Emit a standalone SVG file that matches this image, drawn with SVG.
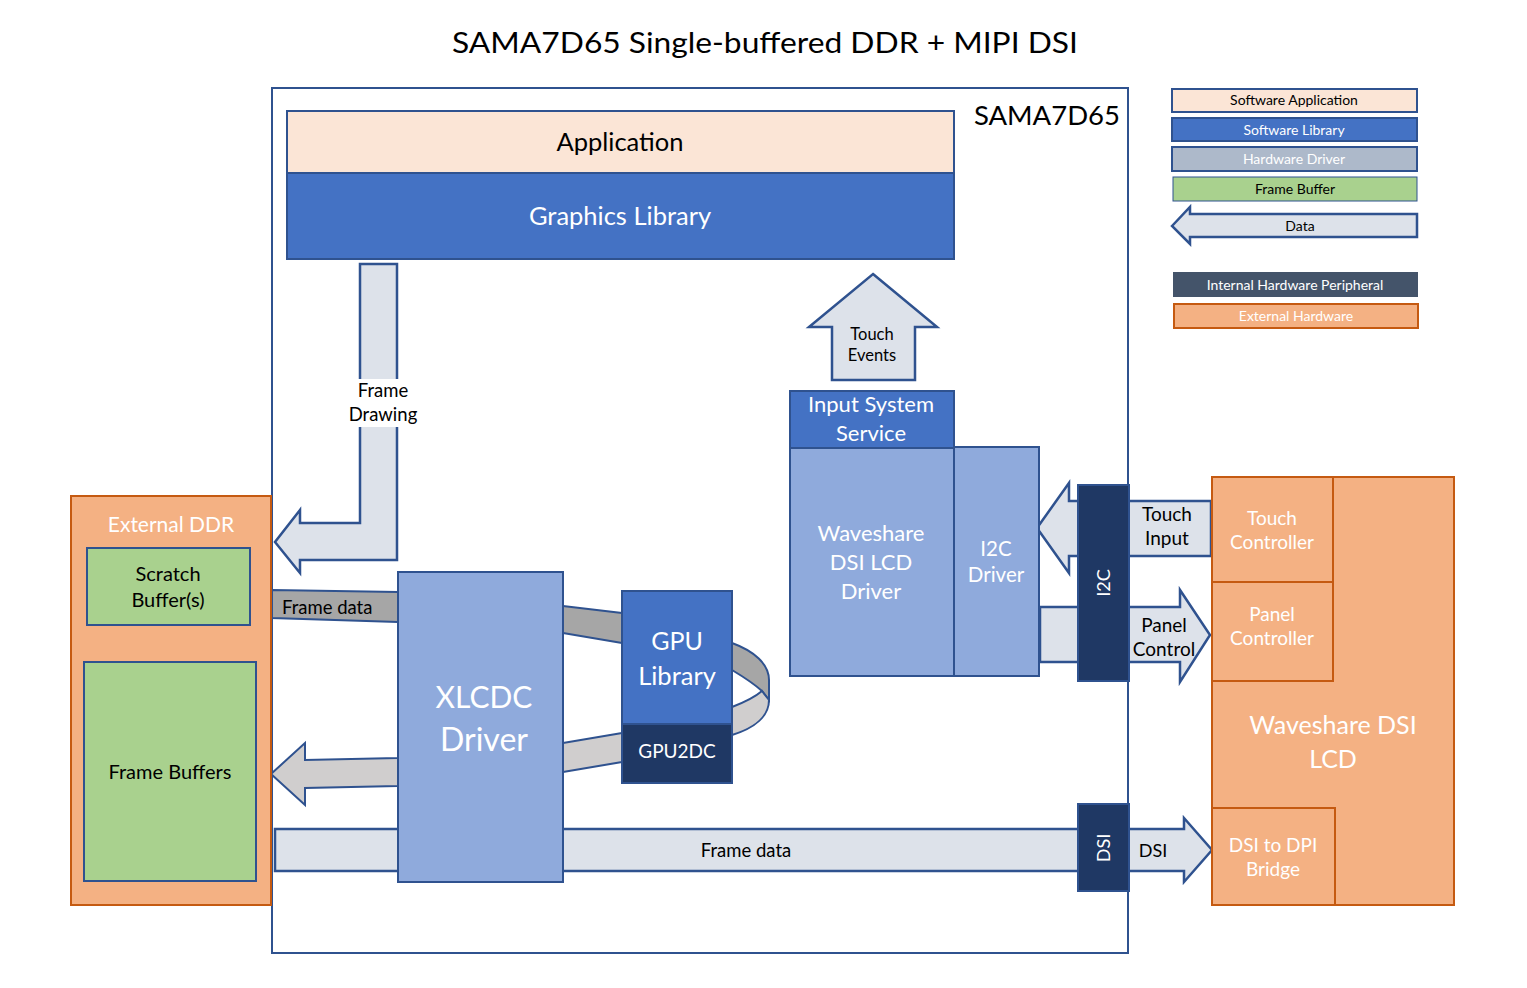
<svg xmlns="http://www.w3.org/2000/svg" width="1527" height="988" viewBox="0 0 1527 988">
<style>
text{font-family:Lato,"Open Sans","Liberation Sans",sans-serif;text-anchor:middle;}
.b{stroke:#2F528F;stroke-width:2;}
.o{fill:#F4B183;stroke:#C55A11;stroke-width:2;}
.app{fill:#FBE5D6;}
.lib{fill:#4472C4;}
.drv{fill:#8FAADC;}
.hw{fill:#ADB9CA;}
.fb{fill:#A9D18E;}
.per{fill:#1F3864;}
.dat{fill:#DDE2EA;stroke:#2F528F;stroke-width:2.5;}
.w{fill:#FFFFFF;}
.k{fill:#000000;}
.lg{font-size:14px;}
</style>
<rect width="1527" height="988" fill="#FFFFFF"/>
<text x="765" y="53" font-size="29" class="k" textLength="626" lengthAdjust="spacingAndGlyphs">SAMA7D65 Single-buffered DDR + MIPI DSI</text>

<g id="sama7d65">
<rect x="272" y="88" width="856" height="865" fill="#FFFFFF" class="b"/>
<text x="1120" y="125" font-size="27.5" class="k" style="text-anchor:end">SAMA7D65</text>
</g>

<g id="legend">
<rect x="1172" y="89" width="245" height="23" class="app b"/>
<text x="1294" y="105" class="lg k">Software Application</text>
<rect x="1172" y="118" width="245" height="23" class="lib b"/>
<text x="1294" y="135" class="lg w">Software Library</text>
<rect x="1172" y="147" width="245" height="24" class="hw b"/>
<text x="1294" y="164" class="lg w">Hardware Driver</text>
<rect x="1173" y="177" width="244" height="24" class="fb" stroke="#2F528F" stroke-width="1"/>
<text x="1295" y="194" class="lg k">Frame Buffer</text>
<polygon points="1172,226 1190,207 1190,214 1417,214 1417,237 1190,237 1190,244" class="dat" stroke-width="2"/>
<text x="1300" y="231" class="lg k">Data</text>
<rect x="1173" y="272" width="245" height="25" fill="#44546A"/>
<text x="1295" y="290" class="lg w">Internal Hardware Peripheral</text>
<rect x="1174" y="304" width="244" height="24" class="o"/>
<text x="1296" y="321" class="lg w">External Hardware</text>
</g>

<g id="connectors">
<!-- Frame drawing -->
<polygon points="360,264 397,264 397,560 300,560 300,573 275,542 300,510 300,523 360,523" class="dat"/>
<rect x="344" y="379" width="78" height="48" fill="#FFFFFF"/>
<text x="383" y="397" font-size="18.5" class="k">Frame</text>
<text x="383" y="421" font-size="18.5" class="k">Drawing</text>
<!-- GPU loop upper (dark) -->
<path d="M272,590 L398,592 L563,606 L622,613 L732,643 C754,651 769,664 769,680 L769,700 L762,691 C752,682 742,676 732,670 L622,643 L563,633 L398,622 L272,618 Z" fill="#A6A6A6" stroke="#2F528F" stroke-width="2"/>
<text x="282" y="614" font-size="18.5" class="k" style="text-anchor:start">Frame data</text>
<!-- GPU loop lower (light) -->
<path d="M762,691 L769,700 C769,716 755,728 732,735 L622,762 L563,772 L398,786 L305,788 L305,805 L271,774 L305,743 L305,760 L398,758 L563,743 L622,733 L732,707 C745,702 755,697 762,691 Z" fill="#D0CECE" stroke="#2F528F" stroke-width="2"/>
<!-- Frame data to DSI -->
<polygon points="275,829 1184,829 1184,818 1212,850 1184,882 1184,871 275,871" class="dat"/>
<text x="746" y="857" font-size="18.5" class="k">Frame data</text>
<text x="1153" y="857" font-size="18" class="k">DSI</text>
<!-- Touch events -->
<polygon points="873,274 937,327 915,327 915,380 832,380 832,327 809,327" class="dat"/>
<text x="872" y="340" font-size="16.5" class="k">Touch</text>
<text x="872" y="361" font-size="16.5" class="k">Events</text>
<!-- Touch input -->
<polygon points="1037,528 1069,483 1069,501 1211,501 1211,556 1069,556 1069,573" class="dat"/>
<text x="1167" y="521" font-size="19" class="k">Touch</text>
<text x="1167" y="545" font-size="19" class="k">Input</text>
<!-- Panel control -->
<polygon points="1040,607 1180,607 1180,590 1210,635 1180,682 1180,662 1040,662" class="dat"/>
<text x="1164" y="632" font-size="19" class="k">Panel</text>
<text x="1164" y="656" font-size="19" class="k">Control</text>
</g>

<g id="application">
<rect x="287" y="111" width="667" height="62" class="app b"/>
<text x="620" y="151" font-size="25.5" class="k">Application</text>
</g>
<g id="graphics-library">
<rect x="287" y="173" width="667" height="86" class="lib b"/>
<text x="620" y="225" font-size="25.5" class="w">Graphics Library</text>
</g>

<g id="external-ddr">
<rect x="71" y="496" width="200" height="409" class="o"/>
<text x="171" y="532" font-size="21" class="w">External DDR</text>
</g>
<g id="scratch-buffers">
<rect x="87" y="548" width="163" height="77" class="fb b"/>
<text x="168" y="581" font-size="20" class="k">Scratch</text>
<text x="168" y="607" font-size="20" class="k">Buffer(s)</text>
</g>
<g id="frame-buffers">
<rect x="84" y="662" width="172" height="219" class="fb b"/>
<text x="170" y="779" font-size="20" class="k">Frame Buffers</text>
</g>

<g id="xlcdc-driver">
<rect x="398" y="572" width="165" height="310" class="drv b"/>
<text x="484" y="708" font-size="30" class="w">XLCDC</text>
<text x="484" y="751" font-size="32" class="w">Driver</text>
</g>
<g id="gpu-library">
<rect x="622" y="591" width="110" height="133" class="lib b"/>
<text x="677" y="650" font-size="25" class="w">GPU</text>
<text x="677" y="685" font-size="25.5" class="w">Library</text>
</g>
<g id="gpu2dc">
<rect x="622" y="724" width="110" height="59" class="per b"/>
<text x="677" y="758" font-size="19" class="w">GPU2DC</text>
</g>

<g id="input-system-service">
<rect x="790" y="391" width="164" height="57" class="lib b"/>
<text x="871" y="412" font-size="22" class="w">Input System</text>
<text x="871" y="441" font-size="22" class="w">Service</text>
</g>
<g id="waveshare-driver">
<rect x="790" y="448" width="164" height="228" class="drv b"/>
<text x="871" y="541" font-size="22" class="w">Waveshare</text>
<text x="871" y="570" font-size="22" class="w">DSI LCD</text>
<text x="871" y="599" font-size="22" class="w">Driver</text>
</g>
<g id="i2c-driver">
<rect x="954" y="447" width="85" height="229" class="drv b"/>
<text x="996" y="556" font-size="20.5" class="w">I2C</text>
<text x="996" y="582" font-size="20.5" class="w">Driver</text>
</g>

<g id="i2c">
<rect x="1078" y="485" width="51" height="196" class="per b"/>
<text transform="translate(1110,583) rotate(-90)" font-size="18" class="w">I2C</text>
</g>
<g id="dsi">
<rect x="1078" y="804" width="51" height="87" class="per b"/>
<text transform="translate(1110,848) rotate(-90)" font-size="18" class="w">DSI</text>
</g>

<g id="waveshare-lcd">
<rect x="1212" y="477" width="242" height="428" class="o"/>
<text x="1333" y="734" font-size="25" class="w">Waveshare DSI</text>
<text x="1333" y="768" font-size="25" class="w">LCD</text>
</g>
<g id="touch-controller">
<rect x="1212" y="477" width="121" height="105" class="o"/>
<text x="1272" y="525" font-size="19" class="w">Touch</text>
<text x="1272" y="549" font-size="19" class="w">Controller</text>
</g>
<g id="panel-controller">
<rect x="1212" y="582" width="121" height="99" class="o"/>
<text x="1272" y="621" font-size="19" class="w">Panel</text>
<text x="1272" y="645" font-size="19" class="w">Controller</text>
</g>
<g id="dsi-dpi-bridge">
<rect x="1212" y="808" width="123" height="97" class="o"/>
<text x="1273" y="852" font-size="19" class="w">DSI to DPI</text>
<text x="1273" y="876" font-size="19" class="w">Bridge</text>
</g>
</svg>
